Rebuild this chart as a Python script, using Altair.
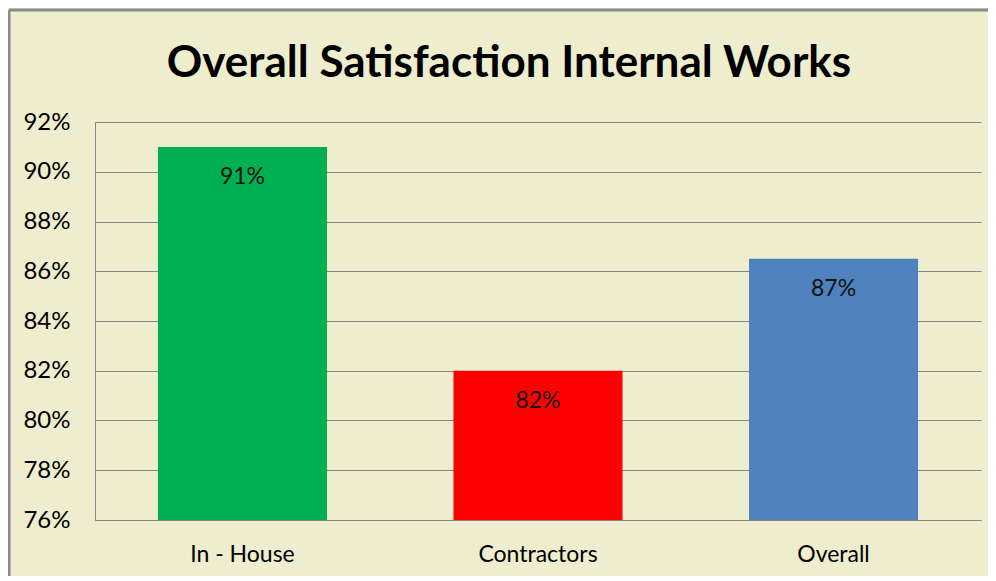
import altair as alt
import pandas as pd

categories = ["In - House", "Contractors", "Overall"]
values = [0.91, 0.82, 0.865]
labels = ["91%", "82%", "87%"]
colors = ["#00B050", "#FF0000", "#4F81BD"]
y_ticks = [0.76, 0.78, 0.80, 0.82, 0.84, 0.86, 0.88, 0.90, 0.92]

df = pd.DataFrame({"category": categories, "value": values, "label": labels, "color": colors})

FONT = "Lato"
W, H = 886, 398

xenc = alt.X(
    "category:N", sort=categories, title=None,
    scale=alt.Scale(paddingInner=0.428, paddingOuter=0.213),
    axis=alt.Axis(labelAngle=0, ticks=False, domain=True, domainColor="#868686",
                  labelFont=FONT, labelFontSize=23, labelColor="#000000", labelPadding=23, grid=False),
)
yscale = alt.Scale(domain=[0.76, 0.92], zero=False, nice=False)

bars = alt.Chart(df).mark_bar().encode(
    x=xenc,
    y=alt.Y("value:Q", scale=yscale, title=None,
            axis=alt.Axis(values=y_ticks, format=".0%", ticks=False, domain=True, domainColor="#868686",
                          gridColor="#868686", gridWidth=1, labelFont=FONT, labelFontSize=24,
                          labelColor="#000000", labelPadding=25)),
    y2=alt.datum(0.76),
    color=alt.Color("color:N", scale=None, legend=None),
)

text = alt.Chart(df).mark_text(baseline="middle", dy=30, font=FONT, fontSize=23, color="#111111").encode(
    x=alt.X("category:N", sort=categories),
    y=alt.Y("value:Q", scale=yscale),
    text="label:N",
)

border = alt.Data(values=[{"a": 1}])
left_line = alt.Chart(border).mark_rule(color="#8a8a8a", strokeWidth=3).encode(
    x=alt.value(-86), y=alt.value(-112), y2=alt.value(480))
top_line = alt.Chart(border).mark_rule(color="#8a8a8a", strokeWidth=3).encode(
    x=alt.value(-86), x2=alt.value(900), y=alt.value(-112))

chart = alt.layer(bars, text, left_line, top_line).properties(
    width=W, height=H,
    title=alt.TitleParams("Overall Satisfaction Internal Works", font=FONT, fontSize=44,
                          fontWeight="bold", color="#000000", anchor="middle", dx=-29, offset=-77),
    autosize=alt.AutoSizeParams(type="none"),
    padding={"left": 87, "top": 114, "right": 7, "bottom": 56},
    background="#EEEDCD",
).configure_view(stroke=None)

chart.save("out.html", embed_options={"renderer": "svg", "actions": False})
